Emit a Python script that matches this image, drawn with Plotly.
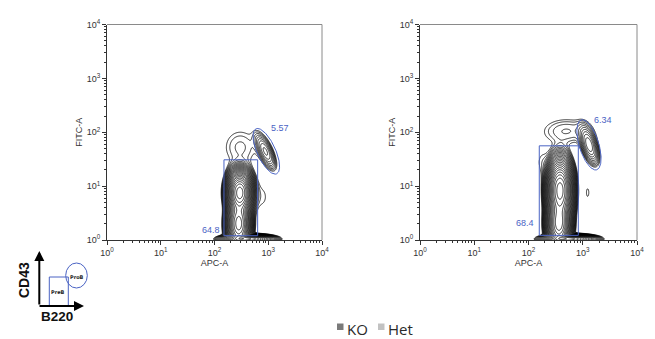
import numpy as np
import plotly.graph_objects as go

DECADES = [0, 1, 2, 3, 4]
TICK_VALS = [10 ** d for d in DECADES]
TICK_TEXT = ["10<sup>%d</sup>" % d for d in DECADES]
MINOR_VALS = [m * 10 ** d for d in range(4) for m in range(2, 10)]

# Populations (log10 space): centre x, centre y, sd along u, sd along v, rotation (deg), weight
KO_CX = [2.47, 2.45, 2.48, 2.95, 2.88, 2.62]
KO_CY = [0.88, 0.30, 1.72, 1.64, 0.80, 0.02]
KO_SU = [0.10, 0.095, 0.24, 0.19, 0.14, 0.20]
KO_SV = [0.175, 0.20, 0.26, 0.07, 0.24, 0.035]
KO_ANG = [0, 0, 0, -65, 0, 0]
KO_W = [1.0, 0.6, 0.0045, 0.02, 0.0028, 0.4]

HET_CX = [2.58, 2.56, 2.70, 3.12, 2.25, 3.09, 2.75]
HET_CY = [0.92, 0.30, 2.02, 1.76, 1.45, 0.88, 0.02]
HET_SU = [0.10, 0.095, 0.32, 0.19, 0.10, 0.04, 0.20]
HET_SV = [0.25, 0.20, 0.17, 0.075, 0.20, 0.13, 0.035]
HET_ANG = [0, 0, 0, -73, 0, 0, 0]
HET_W = [1.0, 0.6, 0.0055, 0.03, 0.0028, 0.0029, 0.45]

# Gates: rectangle [x0, x1, y0, y1] in data units; ellipse centre (log10), semi-axes (decades), angle
KO_RECT = [150, 635, 1.2, 30.8]
KO_ELL = [2.964, 1.647, 0.46, 0.17, -65.3]
HET_RECT = [158, 828, 1.22, 56]
HET_ELL = [3.115, 1.767, 0.485, 0.18, -73]

KO_LABELS = ["5.57", "64.8"]
KO_LABEL_POS = [(3.22, 2.08), (1.93, 0.19)]
HET_LABELS = ["6.34", "68.4"]
HET_LABEL_POS = [(3.37, 2.23), (1.94, 0.32)]

LEGEND_NAMES = ["KO", "Het"]
LEGEND_COLORS = ["#7a7a7a", "#c2c2c2"]

BLUE = "#4a63c4"
TXT = "#333333"

gx = np.linspace(0, 4, 401)
gy = np.linspace(-0.4, 4, 441)
GX, GY = np.meshgrid(gx, gy)


def density(cx, cy, su, sv, ang, w):
    d = np.zeros_like(GX)
    for a, b, s1, s2, t, k in zip(cx, cy, su, sv, ang, w):
        th = np.deg2rad(t)
        dx, dy = GX - a, GY - b
        u = dx * np.cos(th) + dy * np.sin(th)
        v = -dx * np.sin(th) + dy * np.cos(th)
        d += k * np.exp(-0.5 * ((u / s1) ** 2 + (v / s2) ** 2))
    return np.log10(d + 1e-12)


def ellipse(cx, cy, a, b, ang):
    t = np.linspace(0, 2 * np.pi, 120)
    th = np.deg2rad(ang)
    x = cx + a * np.cos(t) * np.cos(th) - b * np.sin(t) * np.sin(th)
    y = cy + a * np.cos(t) * np.sin(th) + b * np.sin(t) * np.cos(th)
    return 10 ** x, 10 ** y


fig = go.Figure()

panels = [
    ("x", "y", density(KO_CX, KO_CY, KO_SU, KO_SV, KO_ANG, KO_W), KO_RECT, KO_ELL, KO_LABELS, KO_LABEL_POS),
    ("x2", "y2", density(HET_CX, HET_CY, HET_SU, HET_SV, HET_ANG, HET_W), HET_RECT, HET_ELL, HET_LABELS, HET_LABEL_POS),
]

for xa, ya, z, rect, ell, labels, lpos in panels:
    fig.add_trace(go.Contour(
        x=10 ** gx, y=10 ** gy, z=z, xaxis=xa, yaxis=ya,
        contours=dict(coloring="none", start=-2.6, end=0, size=0.11),
        line=dict(color="black", width=0.8), showscale=False, showlegend=False,
        hoverinfo="skip"))
    x0, x1, y0, y1 = rect
    fig.add_trace(go.Scatter(x=[x0, x1, x1, x0, x0], y=[y0, y0, y1, y1, y0], xaxis=xa, yaxis=ya,
                             mode="lines", line=dict(color=BLUE, width=1), showlegend=False, hoverinfo="skip"))
    ex, ey = ellipse(*ell)
    fig.add_trace(go.Scatter(x=ex, y=ey, xaxis=xa, yaxis=ya, mode="lines",
                             line=dict(color=BLUE, width=1), showlegend=False, hoverinfo="skip"))
    for txt, (lx, ly) in zip(labels, lpos):
        fig.add_annotation(x=lx, y=ly, xref=xa, yref=ya, text=txt, showarrow=False,
                           xanchor="center", yanchor="middle",
                           font=dict(family="Liberation Sans", size=9, color=BLUE))
    # grey top/right frame
    fig.add_shape(type="line", xref=xa + " domain", yref=ya + " domain", x0=0, x1=1, y0=1, y1=1,
                  line=dict(color="#8a8a8a", width=1))
    fig.add_shape(type="line", xref=xa + " domain", yref=ya + " domain", x0=1, x1=1, y0=0, y1=1,
                  line=dict(color="#8a8a8a", width=1))

title_font = dict(family="Liberation Sans", size=9, color=TXT)
ax_common = dict(type="log", range=[0, 4], tickvals=TICK_VALS, ticktext=TICK_TEXT, automargin=False,
                 ticks="outside", ticklen=4, tickcolor="#333", showgrid=False, zeroline=False,
                 showline=True, linecolor="#333", linewidth=1, mirror=False,
                 tickfont=dict(family="Liberation Sans", size=9, color=TXT),
                 minor=dict(tickvals=MINOR_VALS, ticks="outside", ticklen=2, tickcolor="#333", showgrid=False))

ydom = [1 - 240 / 339, 1 - 24.5 / 339]
fig.update_layout(
    width=655, height=339, margin=dict(l=0, r=0, t=0, b=0),
    paper_bgcolor="white", plot_bgcolor="white", showlegend=False,
    xaxis=dict(ax_common, domain=[107 / 655, 322 / 655], anchor="y",
               title=dict(text="APC-A", font=title_font, standoff=0)),
    yaxis=dict(ax_common, domain=ydom, anchor="x",
               title=dict(text="FITC-A", font=title_font, standoff=2)),
    xaxis2=dict(ax_common, domain=[420 / 655, 637 / 655], anchor="y2",
                title=dict(text="APC-A", font=title_font, standoff=0)),
    yaxis2=dict(ax_common, domain=ydom, anchor="x2",
                title=dict(text="FITC-A", font=title_font, standoff=2)),
)


def px(x):
    return x / 655


def py(y):
    return 1 - y / 339


def note(x, y, text, **kw):
    fig.add_annotation(x=px(x), y=py(y), xref="paper", yref="paper", text=text, showarrow=False,
                       xanchor=kw.pop("xanchor", "center"), yanchor="middle", **kw)


# Legend (squares + names)
LEG_SQ_X = [337, 378]
for name, col, sx in zip(LEGEND_NAMES, LEGEND_COLORS, LEG_SQ_X):
    fig.add_shape(type="rect", xref="paper", yref="paper", x0=px(sx), x1=px(sx + 6.5), y0=py(330), y1=py(323.5),
                  line=dict(width=0), fillcolor=col)
    note(sx + 8, 329, name, xanchor="left", font=dict(family="Open Sans", size=15, color="#2a2a2a"))

# Schematic (bottom left)
fig.add_annotation(x=px(39.3), y=py(251), xref="paper", yref="paper", ax=0, ay=55, text="",
                   showarrow=True, arrowhead=2, arrowsize=1, arrowwidth=2, arrowcolor="black")
fig.add_annotation(x=px(84), y=py(306), xref="paper", yref="paper", ax=-46, ay=0, text="",
                   showarrow=True, arrowhead=2, arrowsize=1, arrowwidth=2, arrowcolor="black")
fig.add_shape(type="rect", xref="paper", yref="paper", x0=px(49.3), x1=px(68.3), y0=py(306), y1=py(277),
              line=dict(color=BLUE, width=1))
fig.add_shape(type="circle", xref="paper", yref="paper", x0=px(65.7), x1=px(87.3), y0=py(288), y1=py(263),
              line=dict(color=BLUE, width=1))
note(58.5, 292, "<b>PreB</b>", font=dict(family="DejaVu Sans", size=5, color="#222"))
note(76.5, 277, "<b>ProB</b>", font=dict(family="DejaVu Sans", size=5, color="#222"))
note(24, 280, "<b>CD43</b>", textangle=-90, font=dict(family="Liberation Sans", size=14, color="#111"))
note(57, 316, "<b>B220</b>", font=dict(family="Liberation Sans", size=13.5, color="#111"))

fig.write_html("out.html", config={"displayModeBar": False},
               post_script="document.body.style.margin='0';document.body.style.padding='0';")
